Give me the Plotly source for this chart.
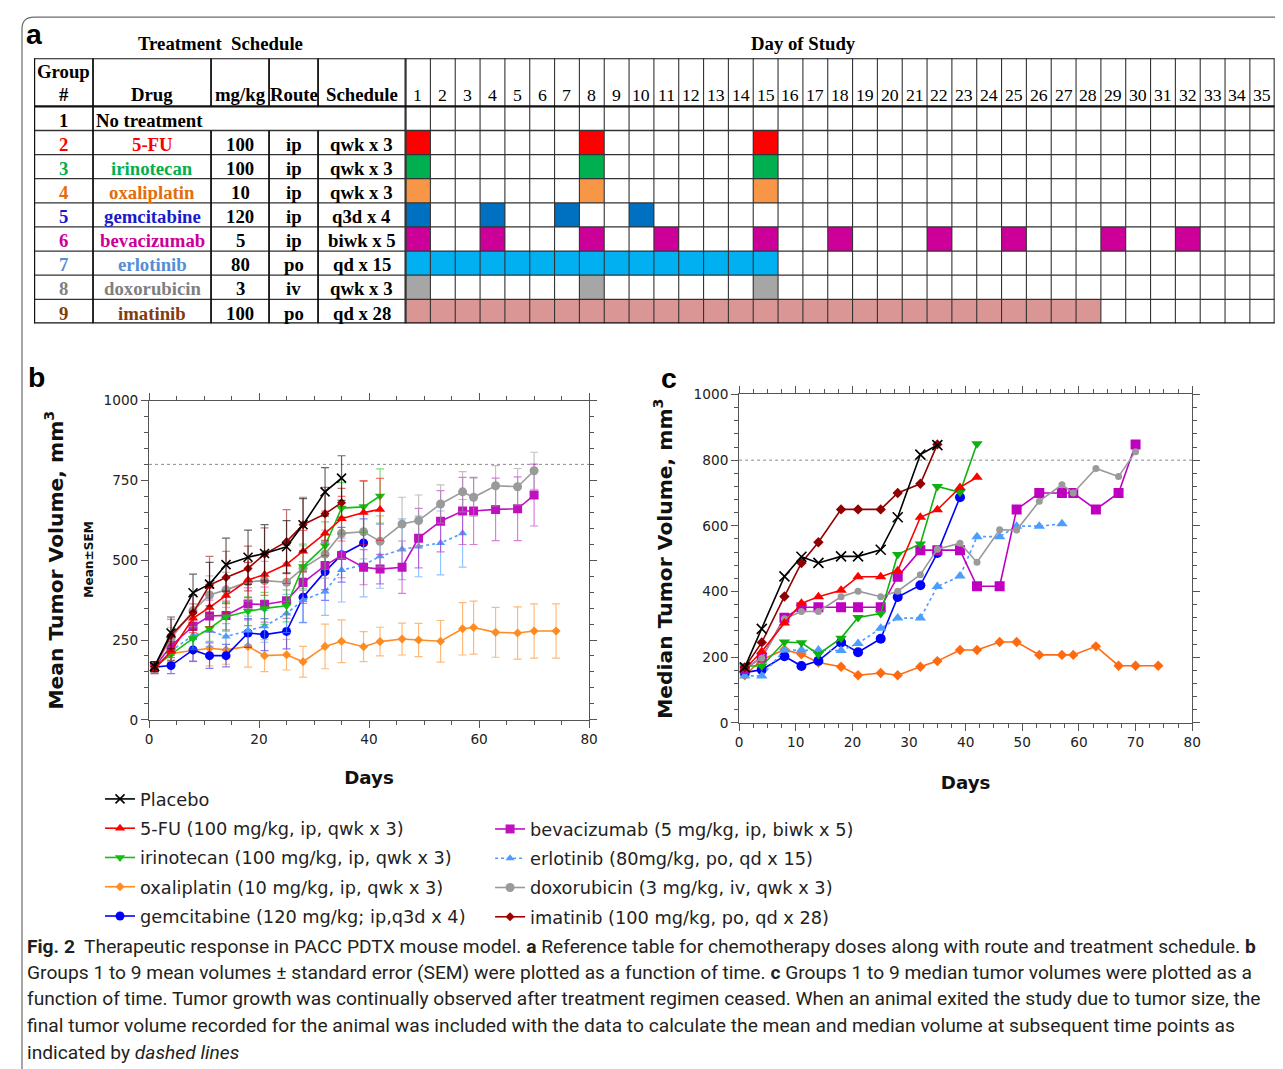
import plotly.graph_objects as go

# ---------------- DATA ----------------
# Table (panel a)
table_groups = ["1", "2", "3", "4", "5", "6", "7", "8", "9"]
table_drugs = ["No treatment", "5-FU", "irinotecan", "oxaliplatin", "gemcitabine",
               "bevacizumab", "erlotinib", "doxorubicin", "imatinib"]
table_doses = ["", "100", "100", "10", "120", "5", "80", "3", "100"]
table_routes = ["", "ip", "ip", "ip", "ip", "ip", "po", "iv", "po"]
table_schedules = ["", "qwk x 3", "qwk x 3", "qwk x 3", "q3d x 4", "biwk x 5",
                   "qd x 15", "qwk x 3", "qd x 28"]
study_days = [1, 2, 3, 4, 5, 6, 7, 8, 9, 10, 11, 12, 13, 14, 15, 16, 17, 18, 19, 20,
              21, 22, 23, 24, 25, 26, 27, 28, 29, 30, 31, 32, 33, 34, 35]
dose_days_5fu = [1, 8, 15]
dose_days_irinotecan = [1, 8, 15]
dose_days_oxaliplatin = [1, 8, 15]
dose_days_gemcitabine = [1, 4, 7, 10]
dose_days_bevacizumab = [1, 4, 8, 11, 15, 18, 22, 25, 29, 32]
dose_days_erlotinib = [1, 2, 3, 4, 5, 6, 7, 8, 9, 10, 11, 12, 13, 14, 15]
dose_days_doxorubicin = [1, 8, 15]
dose_days_imatinib = [1, 2, 3, 4, 5, 6, 7, 8, 9, 10, 11, 12, 13, 14, 15, 16, 17, 18,
                      19, 20, 21, 22, 23, 24, 25, 26, 27, 28]

# Time points (days) per group
days_placebo = [1, 4, 8, 11, 14, 18, 21, 25, 28, 32, 35]
days_5fu = [1, 4, 8, 11, 14, 18, 21, 25, 28, 32, 35, 39, 42]
days_irinotecan = [1, 4, 8, 11, 14, 18, 21, 25, 28, 32, 35, 39, 42]
days_oxaliplatin = [1, 4, 8, 11, 14, 18, 21, 25, 28, 32, 35, 39, 42, 46, 49, 53, 57, 59, 63, 67, 70, 74]
days_gemcitabine = [1, 4, 8, 11, 14, 18, 21, 25, 28, 32, 35, 39]
days_bevacizumab = [1, 4, 8, 11, 14, 18, 21, 25, 28, 32, 35, 39, 42, 46, 49, 53, 57, 59, 63, 67, 70]
days_erlotinib = [1, 4, 8, 11, 14, 18, 21, 25, 28, 32, 35, 39, 42, 46, 49, 53, 57]
days_doxorubicin = [1, 4, 8, 11, 14, 18, 21, 25, 28, 32, 35, 39, 42, 46, 49, 53, 57, 59, 63, 67, 70]
days_imatinib = [1, 4, 8, 11, 14, 18, 21, 25, 28, 32, 35]

# Panel b: mean volume and SEM (mm^3)
mean_placebo = [167, 272, 398, 425, 486, 509, 521, 542, 611, 714, 757]
sem_placebo = [15, 50, 58, 68, 83, 85, 90, 82, 82, 76, 70]
mean_5fu = [160, 215, 318, 352, 389, 438, 455, 487, 528, 584, 630, 649, 659]
sem_5fu = [15, 30, 45, 60, 55, 55, 65, 60, 65, 70, 70, 100, 97]
mean_irinotecan = [165, 205, 255, 286, 323, 340, 349, 357, 480, 545, 663, 667, 701]
sem_irinotecan = [15, 20, 35, 40, 45, 45, 50, 50, 70, 75, 80, 80, 85]
mean_oxaliplatin = [165, 208, 217, 224, 219, 230, 201, 204, 182, 230, 246, 229, 245, 253, 250, 246, 285, 289, 274, 272, 278, 278]
sem_oxaliplatin = [15, 20, 35, 55, 45, 65, 50, 48, 48, 70, 67, 47, 45, 50, 52, 65, 82, 83, 78, 82, 85, 85]
mean_gemcitabine = [165, 170, 219, 201, 201, 272, 267, 277, 384, 464, 517, 554]
sem_gemcitabine = [15, 25, 35, 40, 35, 45, 50, 55, 80, 90, 86, 75]
mean_bevacizumab = [165, 232, 293, 325, 327, 363, 361, 373, 430, 483, 515, 478, 472, 478, 569, 622, 654, 654, 659, 661, 704]
sem_bevacizumab = [15, 30, 40, 50, 45, 50, 55, 55, 65, 75, 70, 55, 46, 82, 93, 96, 105, 105, 98, 100, 97]
mean_erlotinib = [160, 215, 265, 280, 261, 280, 293, 333, 375, 402, 469, 485, 512, 534, 543, 554, 584]
sem_erlotinib = [15, 30, 40, 50, 40, 45, 50, 60, 70, 75, 100, 100, 100, 95, 95, 100, 106]
mean_doxorubicin = [165, 255, 342, 391, 407, 432, 436, 431, 475, 519, 584, 589, 559, 613, 624, 676, 714, 697, 733, 730, 780]
sem_doxorubicin = [15, 35, 50, 60, 55, 60, 60, 60, 70, 75, 80, 85, 80, 84, 80, 60, 63, 60, 63, 57, 58]
mean_imatinib = [167, 265, 335, 422, 446, 474, 519, 558, 611, 645, 680]
sem_imatinib = [15, 50, 55, 90, 82, 70, 82, 100, 86, 83, 45]

# Panel c: median volume (mm^3)
median_placebo = [169, 286, 446, 506, 487, 507, 507, 527, 626, 817, 846]
median_5fu = [164, 217, 304, 364, 384, 404, 445, 445, 463, 626, 649, 717, 748]
median_irinotecan = [173, 173, 246, 244, 209, 258, 321, 333, 513, 545, 720, 702, 850]
median_oxaliplatin = [145, 192, 223, 209, 184, 171, 145, 152, 145, 171, 188, 222, 222, 246, 246, 207, 207, 207, 233, 174, 174, 174]
median_gemcitabine = [153, 162, 203, 173, 189, 245, 215, 256, 383, 419, 517, 687]
median_bevacizumab = [164, 199, 320, 352, 352, 352, 352, 352, 445, 526, 526, 526, 416, 416, 650, 700, 700, 700, 650, 700, 848]
median_erlotinib = [143, 143, 222, 222, 222, 220, 242, 288, 319, 319, 415, 447, 567, 567, 599, 599, 606]
median_doxorubicin = [166, 197, 317, 339, 339, 384, 401, 384, 401, 451, 529, 547, 489, 588, 587, 675, 725, 700, 775, 750, 826]
median_imatinib = [169, 245, 385, 487, 550, 650, 650, 650, 700, 728, 848]

exit_threshold = 800

legend_names = ["Placebo",
                "5-FU (100 mg/kg, ip, qwk x 3)",
                "irinotecan (100 mg/kg, ip, qwk x 3)",
                "oxaliplatin (10 mg/kg, ip, qwk x 3)",
                "gemcitabine (120 mg/kg; ip,q3d x 4)",
                "bevacizumab (5 mg/kg, ip, biwk x 5)",
                "erlotinib (80mg/kg, po, qd x 15)",
                "doxorubicin (3 mg/kg, iv, qwk x 3)",
                "imatinib (100 mg/kg, po, qd x 28)"]

caption_lines = [
    "<b>Fig. 2</b>  Therapeutic response in PACC PDTX mouse model. <b>a</b> Reference table for chemotherapy doses along with route and treatment schedule. <b>b</b>",
    "Groups 1 to 9 mean volumes \u00b1 standard error (SEM) were plotted as a function of time. <b>c</b> Groups 1 to 9 median tumor volumes were plotted as a",
    "function of time. Tumor growth was continually observed after treatment regimen ceased. When an animal exited the study due to tumor size, the",
    "final tumor volume recorded for the animal was included with the data to calculate the mean and median volume at subsequent time points as",
    "indicated by <i>dashed lines</i>",
]

# ---------------- STYLES / LAYOUT ----------------
W, H = 1283, 1069
# measured mapping figure-px -> screenshot-px (screen = A*fig + B)
AX, BX = 0.9897, 12.0
AY, BY = 0.984, 16.9
FS = 1.014   # font compensation for that scale


def fx(t):
    return max(0.0, min(1.0, ((t - BX) / AX) / W))


def fy(t):
    return max(0.0, min(1.0, 1 - ((t - BY) / AY) / H))


def fxu(t):  # unclamped (shapes)
    return ((t - BX) / AX) / W


def fyu(t):
    return 1 - ((t - BY) / AY) / H


# per-series style: color_b, color_c, symbol, size_b, size_c, dash, legend
styles = [
    ("#000000", "#000000", "x-thin", 9, 10, "solid", "legend"),
    ("#ff0000", "#ff0000", "triangle-up", 9, 10, "solid", "legend"),
    ("#11c011", "#10b010", "triangle-down", 9, 10, "solid", "legend"),
    ("#ff8c22", "#ff6a10", "diamond", 7, 8, "solid", "legend"),
    ("#0000ff", "#0000ff", "circle", 9, 10, "solid", "legend"),
    ("#c010c0", "#c000c0", "square", 9, 10, "solid", "legend2"),
    ("#4d9dff", "#4d9dff", "triangle-up", 8, 10, "dot", "legend2"),
    ("#9a9a9a", "#9a9a9a", "circle", 9, 7, "solid", "legend2"),
    ("#a00000", "#900000", "diamond", 7, 8, "solid", "legend2"),
]
err_colors = ["rgba(0,0,0,0.6)", "rgba(255,0,0,0.55)", "rgba(17,192,17,0.55)",
              "rgba(255,140,34,0.6)", "rgba(0,0,255,0.5)", "rgba(192,16,192,0.55)",
              "rgba(77,157,255,0.6)", "rgba(154,154,154,0.6)", "rgba(160,0,0,0.55)"]

b_days = [days_placebo, days_5fu, days_irinotecan, days_oxaliplatin, days_gemcitabine,
          days_bevacizumab, days_erlotinib, days_doxorubicin, days_imatinib]
b_means = [mean_placebo, mean_5fu, mean_irinotecan, mean_oxaliplatin, mean_gemcitabine,
           mean_bevacizumab, mean_erlotinib, mean_doxorubicin, mean_imatinib]
b_sems = [sem_placebo, sem_5fu, sem_irinotecan, sem_oxaliplatin, sem_gemcitabine,
          sem_bevacizumab, sem_erlotinib, sem_doxorubicin, sem_imatinib]
c_meds = [median_placebo, median_5fu, median_irinotecan, median_oxaliplatin, median_gemcitabine,
          median_bevacizumab, median_erlotinib, median_doxorubicin, median_imatinib]

draw_order = [3, 4, 6, 5, 7, 2, 1, 8, 0]

fig = go.Figure()

# ---- Panel a: schedule cells as heatmap ----
fill_colors = ["#ff0000", "#00b050", "#f79646", "#0070c0", "#cc0099", "#00b0f0", "#a6a6a6", "#da9694"]
schedules = [[], dose_days_5fu, dose_days_irinotecan, dose_days_oxaliplatin, dose_days_gemcitabine,
             dose_days_bevacizumab, dose_days_erlotinib, dose_days_doxorubicin, dose_days_imatinib]
z = [[None] * len(study_days) for _ in table_groups]
for gi, sched in enumerate(schedules):
    for d in sched:
        z[gi][study_days.index(d)] = gi + 1
cscale = []
for k, c in enumerate(fill_colors):
    cscale += [[k / 8, c], [(k + 1) / 8, c]]
fig.add_trace(go.Heatmap(x=study_days, y=[i + 1 for i in range(len(table_groups))], z=z,
                         zmin=1.5, zmax=9.5, colorscale=cscale, showscale=False,
                         hoverinfo="skip", xaxis="x3", yaxis="y3"))

# ---- Panel b and c traces ----
for i in draw_order:
    cb, cc, sym, sb, sc, dash, leg = styles[i]
    mline_b = dict(width=1.6, color=cb) if sym == "x-thin" else dict(width=0)
    mline_c = dict(width=1.6, color=cc) if sym == "x-thin" else dict(width=0)
    fig.add_trace(go.Scatter(
        x=b_days[i], y=b_means[i], mode="lines+markers", name=legend_names[i],
        line=dict(color=cb, width=1.6, dash=dash),
        marker=dict(symbol=sym, size=sb, color=cb, line=mline_b),
        error_y=dict(type="data", array=b_sems[i], visible=True, color=err_colors[i],
                     thickness=1.2, width=4),
        xaxis="x", yaxis="y", legend=leg, legendgroup=legend_names[i],
        legendrank=i + 1, hoverinfo="skip"))
    fig.add_trace(go.Scatter(
        x=b_days[i], y=c_meds[i], mode="lines+markers", name=legend_names[i],
        line=dict(color=cc, width=1.6, dash=dash),
        marker=dict(symbol=sym, size=sc, color=cc, line=mline_c),
        xaxis="x2", yaxis="y2", showlegend=False, hoverinfo="skip"))

tickfont = dict(family="DejaVu Sans", size=13.5 * FS, color="#222222")
title_font = dict(family="DejaVu Sans", size=20 * FS, color="#111111", weight="bold")
days_font = dict(family="DejaVu Sans", size=18 * FS, color="#111111", weight="bold")


def chart_axis(domain, dtick, minor, anchor, rng, title, tfont, standoff):
    return dict(domain=domain, range=rng, dtick=dtick, tick0=0, ticks="outside", ticklen=7,
                tickwidth=1, tickcolor="#555555",
                minor=dict(dtick=minor, ticks="outside", ticklen=4, tickwidth=1, tickcolor="#555555"),
                showline=True, linecolor="#555555", linewidth=1, mirror="allticks",
                showgrid=False, zeroline=False, tickfont=tickfont, anchor=anchor,
                title=dict(text=title, font=tfont, standoff=standoff))


# table axis units: day columns of width 1, left text columns in same units
TABLE_RIGHT = 1274.5
col_w = (TABLE_RIGHT - 405.5) / 35
left_edges_px = [34, 93, 211, 269, 318, 405.5]
left_edges = [0.5 - (405.5 - p) / col_w for p in left_edges_px]

legend_font = dict(family="DejaVu Sans", size=17.5 * FS, color="#222222")
layout = dict(
    width=W, height=H, margin=dict(l=0, r=0, t=0, b=0),
    paper_bgcolor="white", plot_bgcolor="white",
    xaxis=chart_axis([fx(149), fx(589)], 20, 5, "y", [0, 80], "Days", days_font, 24),
    yaxis=chart_axis([fy(720), fy(401)], 250, 50, "x", [0, 1000], "Mean Tumor Volume, mm<sup>3</sup>", title_font, 34),
    xaxis2=chart_axis([fx(739), fx(1192)], 10, 2.5, "y2", [0, 80], "Days", days_font, 26),
    yaxis2=chart_axis([fy(723), fy(395)], 200, 40, "x2", [0, 1000], "Median Tumor Volume, mm<sup>3</sup>", title_font, 15),
    xaxis3=dict(domain=[fx(34), fx(TABLE_RIGHT)], range=[left_edges[0], 35.5], visible=False,
                anchor="y3", fixedrange=True),
    yaxis3=dict(domain=[fy(324), fy(59)], range=[9.5, -1.5], visible=False,
                anchor="x3", fixedrange=True),
    legend=dict(x=fx(100), y=fy(781), xanchor="left", yanchor="top", bgcolor="rgba(0,0,0,0)",
                font=legend_font, tracegroupgap=3.2, itemwidth=30, traceorder="grouped"),
    legend2=dict(x=fx(490), y=fy(811), xanchor="left", yanchor="top", bgcolor="rgba(0,0,0,0)",
                 font=legend_font, tracegroupgap=3.2, itemwidth=30, traceorder="grouped"),
    showlegend=True,
)
fig.update_layout(**layout)

shapes = []
# outer frame with rounded corner
shapes.append(dict(type="path", xref="paper", yref="paper",
                   path=f"M {fxu(22)},{fyu(1090)} L {fxu(22)},{fyu(30)} Q {fxu(22)},{fyu(18)} {fxu(34)},{fyu(18)} L {fxu(1300)},{fyu(18)}",
                   line=dict(color="#6b6b6b", width=1.2)))
# threshold lines
for xr, yr in (("x", "y"), ("x2", "y2")):
    shapes.append(dict(type="line", xref=xr, yref=yr, x0=0, x1=80, y0=exit_threshold, y1=exit_threshold,
                       line=dict(color="#8a8a8a", width=1, dash="dot"), layer="below"))
# table grid
x_right = 35.5
for d in range(len(study_days) + 1):
    xv = 0.5 + d
    shapes.append(dict(type="line", xref="x3", yref="y3", x0=xv, x1=xv, y0=-1.5, y1=9.5,
                       line=dict(color="#333333", width=1.1 if 0 < d < 35 else 2.2)))
for r in range(len(table_groups) + 1):
    yv = 0.5 + r
    thick = r in (0, 9)
    shapes.append(dict(type="line", xref="x3", yref="y3", x0=left_edges[0], x1=x_right, y0=yv, y1=yv,
                       line=dict(color="#111111" if thick else "#333333", width=2.4 if thick else 1.3)))
shapes.append(dict(type="line", xref="x3", yref="y3", x0=left_edges[0], x1=x_right, y0=-1.5, y1=-1.5,
                   line=dict(color="#111111", width=2.4)))
# left text column separators
for k, xe in enumerate(left_edges[:-1]):
    if k in (0, 1):
        shapes.append(dict(type="line", xref="x3", yref="y3", x0=xe, x1=xe, y0=-1.5, y1=9.5,
                           line=dict(color="#111111", width=2.4 if k == 0 else 1.8)))
    else:
        for y0, y1 in ((-1.5, 0.5), (1.5, 9.5)):
            shapes.append(dict(type="line", xref="x3", yref="y3", x0=xe, x1=xe, y0=y0, y1=y1,
                               line=dict(color="#111111", width=1.8)))
fig.update_layout(shapes=shapes)

ann = []
serif = "Liberation Serif"
text_colors = ["#000000", "#ff0000", "#00b050", "#e46c0a", "#1a1acc", "#cc0099", "#558ed5", "#7f7f7f", "#843c0c"]
centers = [(left_edges[k] + left_edges[k + 1]) / 2 for k in range(5)]


def tann(x, y, text, color="#000000", size=18.5, xanchor="center"):
    return dict(xref="x3", yref="y3", x=x, y=y, text=text, showarrow=False, xanchor=xanchor,
                yanchor="middle", font=dict(family=serif, size=size * FS, color=color))


ann.append(tann(centers[0], -0.93, "<b>Group</b>"))
ann.append(tann(centers[0], 0.02, "<b>#</b>"))
ann.append(tann(centers[1], 0.02, "<b>Drug</b>"))
ann.append(tann(centers[2], 0.02, "<b>mg/kg</b>"))
ann.append(tann(centers[3], 0.02, "<b>Route</b>"))
ann.append(tann(centers[4], 0.02, "<b>Schedule</b>"))
for d in study_days:
    ann.append(tann(d, 0.02, str(d), size=17.5))
for i in range(len(table_groups)):
    yv = i + 1.07
    ann.append(tann(centers[0], yv, f"<b>{table_groups[i]}</b>", text_colors[i]))
    if i == 0:
        ann.append(tann(left_edges[1] + 0.05, yv, f"<b>{table_drugs[i]}</b>", "#000000", xanchor="left"))
        continue
    ann.append(tann(centers[1], yv, f"<b>{table_drugs[i]}</b>", text_colors[i]))
    ann.append(tann(centers[2], yv, f"<b>{table_doses[i]}</b>"))
    ann.append(tann(centers[3], yv, f"<b>{table_routes[i]}</b>"))
    ann.append(tann(centers[4], yv, f"<b>{table_schedules[i]}</b>"))


def pann(x, y, text, size, family="DejaVu Sans", color="#111111", angle=0, xanchor="center", yanchor="middle"):
    return dict(xref="paper", yref="paper", x=fx(x), y=fy(y), text=text, showarrow=False,
                xanchor=xanchor, yanchor=yanchor, textangle=angle,
                font=dict(family=family, size=size * FS, color=color))


ann.append(pann(220, 44, "<b>Treatment  Schedule</b>", 18.5, serif, "#000000"))
ann.append(pann(803, 44, "<b>Day of Study</b>", 18.5, serif, "#000000"))
ann.append(pann(34, 35, "<b>a</b>", 28, "Liberation Sans", "#000000"))
ann.append(pann(36, 378, "<b>b</b>", 28, "Liberation Sans", "#000000"))
ann.append(pann(669, 379, "<b>c</b>", 28, "Liberation Sans", "#000000"))
ann.append(pann(89, 560, "<b>Mean\u00b1SEM</b>", 12, angle=-90))
cap_y = [946, 972, 998.5, 1025, 1052]
for t, yv in zip(caption_lines, cap_y):
    ann.append(pann(25, yv, t, 18.95, "Roboto", "#231f20", xanchor="left"))
fig.update_layout(annotations=ann)

fig.write_html("out.html")
